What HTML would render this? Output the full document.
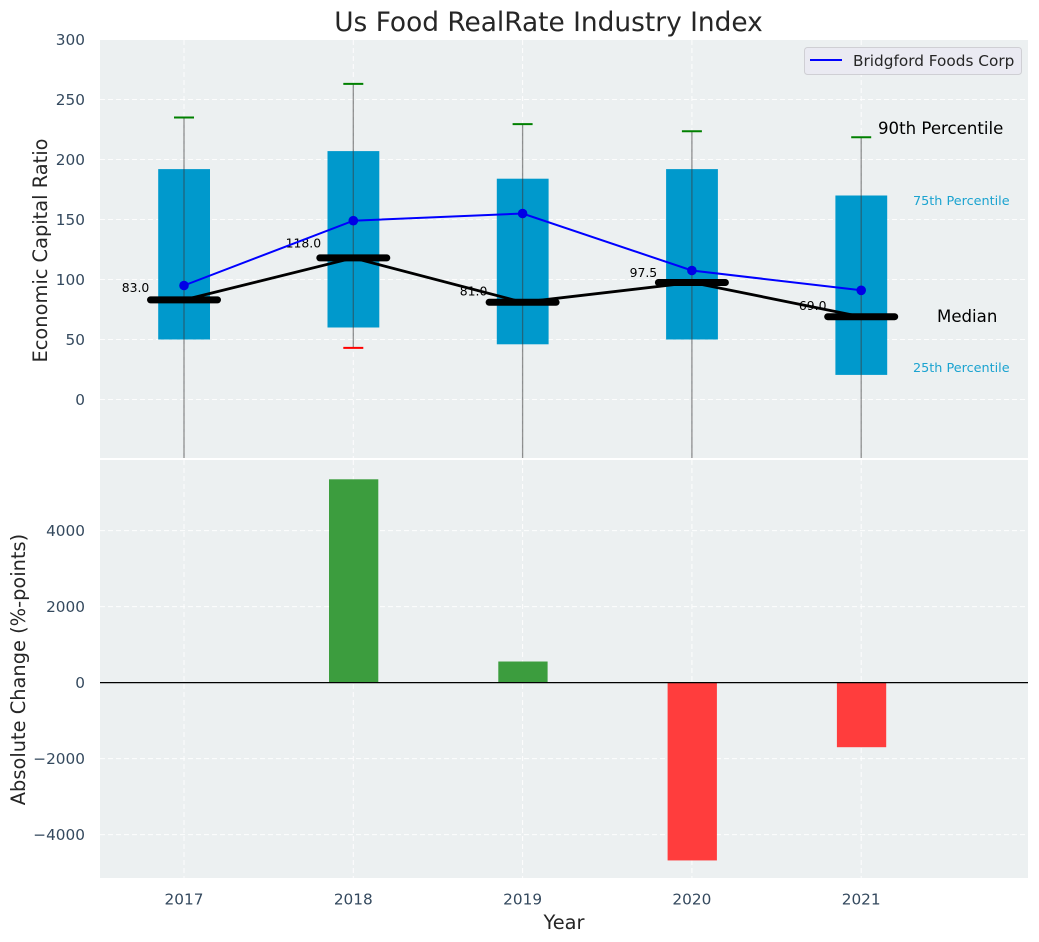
<!DOCTYPE html>
<html>
<head>
<meta charset="utf-8">
<title>Us Food RealRate Industry Index</title>
<style>
html,body{margin:0;padding:0;background:#fff;}
svg{display:block;font-family:"DejaVu Sans","Liberation Sans",sans-serif;}
</style>
</head>
<body>
<svg id="chart" xmlns="http://www.w3.org/2000/svg" width="1039" height="942" viewBox="0 0 1039 942">
  <defs>
    <clipPath id="top-clip"><rect x="100" y="40" width="928" height="418"/></clipPath>
    <clipPath id="bottom-clip"><rect x="100" y="460" width="928" height="418"/></clipPath>
  </defs>
  <rect width="1039" height="942" fill="#ffffff"/>
  <rect x="100" y="40" width="928" height="418" fill="#ecf0f1"/>
  <rect x="100" y="460" width="928" height="418" fill="#ecf0f1"/>
  <g id="grid"></g>
  <g id="top-marks" clip-path="url(#top-clip)"></g>
  <g id="bottom-marks" clip-path="url(#bottom-clip)"></g>
  <g id="ticks"></g>

  <text x="548.5" y="31" text-anchor="middle" font-size="26.4" fill="#262626">Us Food RealRate Industry Index</text>
  <text transform="translate(47,250.5) rotate(-90)" text-anchor="middle" font-size="19.4" fill="#262626">Economic Capital Ratio</text>
  <text transform="translate(25,669.5) rotate(-90)" text-anchor="middle" font-size="19.4" fill="#262626">Absolute Change (%-points)</text>
  <text x="564" y="929" text-anchor="middle" font-size="19.4" fill="#262626">Year</text>

  <text x="878" y="134" font-size="16.6" fill="#000000">90th Percentile</text>
  <text x="913" y="205" font-size="12.8" fill="#1ba3d0">75th Percentile</text>
  <text x="937" y="322" font-size="16.6" fill="#000000">Median</text>
  <text x="913" y="372" font-size="12.8" fill="#1ba3d0">25th Percentile</text>

  <g>
    <rect x="804.5" y="47.5" width="217" height="27" rx="3" fill="#eaeaf2" stroke="#cfcfd4" stroke-width="1"/>
    <line x1="810" y1="60" x2="842" y2="60" stroke="#0000ff" stroke-width="2"/>
    <text x="853" y="66" font-size="15.3" fill="#262626">Bridgford Foods Corp</text>
  </g>
</svg>
<script>
const years = [2017, 2018, 2019, 2020, 2021];
const p25 = [50, 60, 46, 50, 20.5];
const p75 = [192, 207, 184, 192, 170];
const p90 = [235, 263, 229.5, 223.5, 218.5];
const p10 = [-120, 43, -120, -120, -120];
const medians = [83, 118, 81, 97.5, 69];
const companyValues = [95, 149, 155, 107.5, 91];
const changes = [0, 5350, 555, -4680, -1700];
const topTicks = [0, 50, 100, 150, 200, 250, 300];
const bottomTicks = [-4000, -2000, 0, 2000, 4000];
const medianLabelOffsetsYears = [-0.205, -0.19, -0.208, -0.205, -0.205];
const medianLabelOffsetsValues = [10, 12, 9, 8, 9];

const NS = 'http://www.w3.org/2000/svg';
const xScale = function (year) { return 184 + (year - 2017) * 169.3; };
const yTop = function (v) { return 399.5 - v * 1.2; };
const yBottom = function (v) { return 682.6 - v * 0.038; };

function make(tag, attrs, parent, text) {
  const el = document.createElementNS(NS, tag);
  for (const key in attrs) { el.setAttribute(key, attrs[key]); }
  if (text !== undefined) { el.textContent = text; }
  parent.appendChild(el);
  return el;
}
function fmtTick(v) { return v < 0 ? '\u2212' + Math.abs(v) : String(v); }

const grid = document.getElementById('grid');
const ticks = document.getElementById('ticks');
const topMarks = document.getElementById('top-marks');
const bottomMarks = document.getElementById('bottom-marks');

topTicks.forEach(function (t) {
  if (t < 300) {
    const g = make('line', {x1: 100, x2: 1028, y1: yTop(t), y2: yTop(t), stroke: '#ffffff', 'stroke-width': 1, 'stroke-dasharray': '5 3', opacity: 0.9}, grid);
    
    
  }
  const lab = make('text', {x: 85, y: yTop(t) + 5.5, 'text-anchor': 'end', 'font-size': 15.3, fill: '#34495e'}, ticks, String(t));
  
  
});
bottomTicks.forEach(function (t) {
  const g = make('line', {x1: 100, x2: 1028, y1: yBottom(t), y2: yBottom(t), stroke: '#ffffff', 'stroke-width': 1, 'stroke-dasharray': '5 3', opacity: 0.9}, grid);
  
  
  const lab = make('text', {x: 85, y: yBottom(t) + 5.5, 'text-anchor': 'end', 'font-size': 15.3, fill: '#34495e'}, ticks, fmtTick(t));
  
  
});
years.forEach(function (yr) {
  const x = xScale(yr);
  const g1 = make('line', {x1: x, x2: x, y1: 40, y2: 458, stroke: '#ffffff', 'stroke-width': 1, 'stroke-dasharray': '5 3', opacity: 0.9}, grid);
  
  
  const g2 = make('line', {x1: x, x2: x, y1: 460, y2: 878, stroke: '#ffffff', 'stroke-width': 1, 'stroke-dasharray': '5 3', opacity: 0.9}, grid);
  
  
  const lab = make('text', {x: x, y: 904.5, 'text-anchor': 'middle', 'font-size': 15.3, fill: '#34495e'}, ticks, String(yr));
  
  
});

// Boxes
years.forEach(function (yr, i) {
  const x = xScale(yr);
  const box = make('rect', {x: x - 25.8, y: yTop(p75[i]), width: 51.8, height: yTop(p25[i]) - yTop(p75[i]), fill: '#0099cc'}, topMarks);
  
  
});
// Whiskers and caps
years.forEach(function (yr, i) {
  const x = xScale(yr);
  const w = make('line', {x1: x, x2: x, y1: yTop(p90[i]), y2: yTop(p10[i]), stroke: '#3a3a3a', 'stroke-opacity': 0.55, 'stroke-width': 1.3}, topMarks);
  
  
  const hi = make('line', {x1: x - 10, x2: x + 10, y1: yTop(p90[i]), y2: yTop(p90[i]), stroke: '#008000', 'stroke-width': 2}, topMarks);
  
  
  const lo = make('line', {x1: x - 10, x2: x + 10, y1: yTop(p10[i]), y2: yTop(p10[i]), stroke: '#ff0000', 'stroke-width': 2}, topMarks);
  
  
});
// Median line
const medianPts = years.map(function (yr, i) { return xScale(yr) + ',' + yTop(medians[i]); }).join(' ');
const medianLine = make('polyline', {points: medianPts, fill: 'none', stroke: '#000000', 'stroke-width': 2.8}, topMarks);


years.forEach(function (yr, i) {
  const x = xScale(yr);
  const m = make('line', {x1: x - 33.5, x2: x + 33.5, y1: yTop(medians[i]), y2: yTop(medians[i]), stroke: '#000000', 'stroke-width': 7, 'stroke-linecap': 'round'}, topMarks);
  
  
  const label = make('text', {x: xScale(yr + medianLabelOffsetsYears[i]), y: yTop(medians[i] + medianLabelOffsetsValues[i]) + 4, 'text-anchor': 'end', 'font-size': 12.4, fill: '#000000'}, topMarks, medians[i].toFixed(1));
  
  
});
// Company line
const companyPts = years.map(function (yr, i) { return xScale(yr) + ',' + yTop(companyValues[i]); }).join(' ');
const companyLine = make('polyline', {points: companyPts, fill: 'none', stroke: '#0000ff', 'stroke-width': 2}, topMarks);


years.forEach(function (yr, i) {
  const pt = make('circle', {cx: xScale(yr), cy: yTop(companyValues[i]), r: 4.8, fill: '#0000e6'}, topMarks);
  
  
});
// Change bars
years.forEach(function (yr, i) {
  const v = changes[i];
  if (v === 0) { return; }
  const y0 = yBottom(0);
  const y1 = yBottom(v);
  const bar = make('rect', {x: xScale(yr) - 24.3, y: Math.min(y0, y1), width: 49.3, height: Math.abs(y1 - y0), fill: v > 0 ? '#3c9d3e' : '#ff3d3d'}, bottomMarks);
  
  
});
const zeroLine = make('line', {x1: 100, x2: 1028, y1: yBottom(0), y2: yBottom(0), stroke: '#000000', 'stroke-width': 1.2}, bottomMarks);


</script>
</body>
</html>
